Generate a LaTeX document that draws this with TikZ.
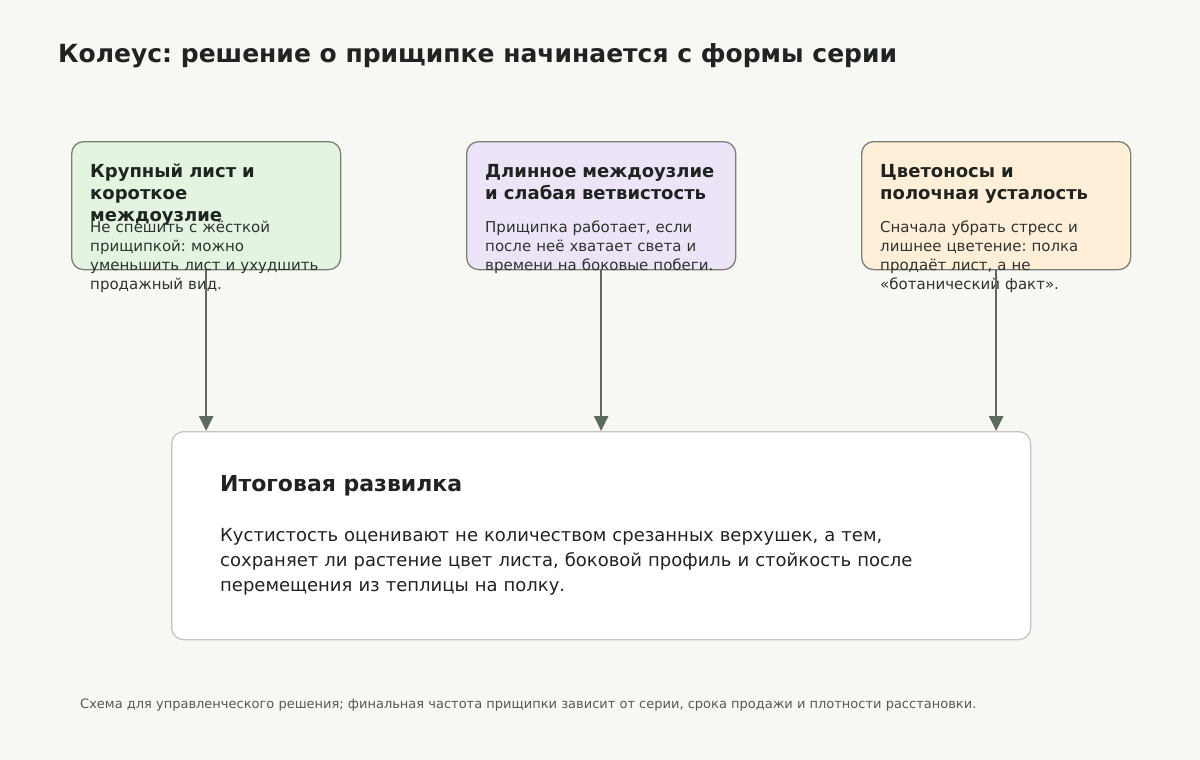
\documentclass[tikz,border=0pt]{standalone}
\usepackage{fontspec}
\setmainfont{DejaVu Sans}
\usetikzlibrary{arrows.meta}
\frenchspacing
\definecolor{bg}{HTML}{F7F8F3}
\definecolor{ink}{HTML}{1F2421}
\definecolor{bodyink}{HTML}{2E332F}
\definecolor{boxline}{HTML}{7B7F74}
\definecolor{fillA}{HTML}{E3F5E0}
\definecolor{fillB}{HTML}{EDE4F7}
\definecolor{fillC}{HTML}{FFEFD9}
\definecolor{arrowc}{HTML}{5B6B5C}
\definecolor{finline}{HTML}{C5C7BF}
\definecolor{footc}{HTML}{555A55}
\tikzset{
  card/.style={draw=boxline, line width=1.3pt, rounded corners=12pt, anchor=north west,
    minimum width=269pt, minimum height=128pt, inner sep=0pt},
  cardtitle/.style={anchor=base west, inner sep=0pt, text=ink, align=left, text width=300pt,
    font=\fontsize{18}{22}\selectfont\bfseries},
  cardbody/.style={anchor=base west, inner sep=0pt, text=bodyink, align=left, text width=300pt,
    font=\fontsize{15}{19}\selectfont},
  link/.style={draw=arrowc, line width=2.5pt, -{Triangle[length=15pt,width=14pt]}},
}
\begin{document}
\begin{tikzpicture}[x=1pt,y=-1pt]
\useasboundingbox (0,0) rectangle (1200,760);
\fill[bg] (0,0) rectangle (1200,760);
\node[anchor=base west, inner sep=0pt, text=ink, font=\fontsize{25}{30}\selectfont\bfseries] (title) at (58,63) {Колеус: решение о прищипке начинается с формы серии};

\node[card, fill=fillA] (b1) at (71,141) {};
\node[card, fill=fillB] (b2) at (466,141) {};
\node[card, fill=fillC] (b3) at (861,141) {};

\node[cardtitle] (t1) at (90,177) {Крупный лист и\\короткое\\междоузлие};
\node[cardbody] (d1) at (90,232) {Не спешить с жёсткой\\прищипкой: можно\\уменьшить лист и ухудшить\\продажный вид.};
\node[cardtitle] (t2) at (485,177) {Длинное междоузлие\\и слабая ветвистость};
\node[cardbody] (d2) at (485,232) {Прищипка работает, если\\после неё хватает света и\\времени на боковые побеги.};
\node[cardtitle] (t3) at (880,177) {Цветоносы и\\полочная усталость};
\node[cardbody] (d3) at (880,232) {Сначала убрать стресс и\\лишнее цветение: полка\\продаёт лист, а не\\«ботанический факт».};

\node[draw=finline, line width=1.3pt, fill=white, rounded corners=12pt, anchor=north west,
  minimum width=859pt, minimum height=208pt, inner sep=0pt] (fin) at (171,431) {};
\node[anchor=base west, inner sep=0pt, text=ink, font=\fontsize{22}{26}\selectfont\bfseries] (ft) at (220,491) {Итоговая развилка};
\node[anchor=base west, inner sep=0pt, text=ink, align=left, text width=750pt, font=\fontsize{18}{25}\selectfont] (fb) at (220,541) {Кустистость оценивают не количеством срезанных верхушек, а тем,\\сохраняет ли растение цвет листа, боковой профиль и стойкость после\\перемещения из теплицы на полку.};

\draw[link] (b1.south) -- (b1.south |- fin.north);
\draw[link] (b2.south) -- (b2.south |- fin.north);
\draw[link] (b3.south) -- (b3.south |- fin.north);

\node[anchor=base west, inner sep=0pt, text=footc, font=\fontsize{13}{15}\selectfont] (foot) at (80,708) {Схема для управленческого решения; финальная частота прищипки зависит от серии, срока продажи и плотности расстановки.};
\end{tikzpicture}
\end{document}
